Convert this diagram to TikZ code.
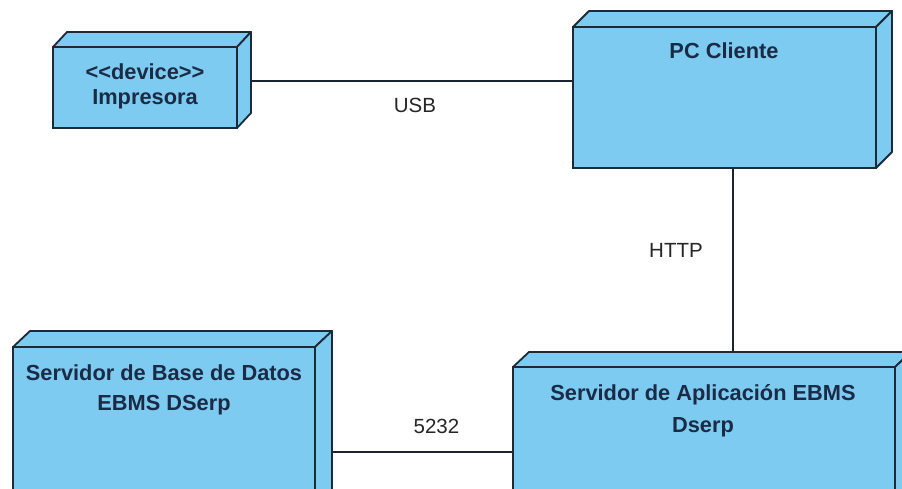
\documentclass[tikz,border=0pt]{standalone}
\usepackage{fontspec}
\setmainfont{Liberation Sans}[Ligatures=NoCommon]
\definecolor{nodefill}{HTML}{7DCBF1}
\definecolor{edge}{HTML}{1C2A38}
\definecolor{ink}{HTML}{1B2B45}
\pgfdeclarelayer{paper}
\pgfdeclarelayer{links}
\pgfsetlayers{paper,links,main}
\tikzset{
  front/.style={draw=edge, fill=nodefill, line width=1.8bp, inner sep=0pt, outer sep=0pt},
  face/.style={draw=edge, fill=nodefill, line width=1.8bp, line join=round},
  title/.style={text=ink, font=\bfseries, align=center, inner sep=0pt},
  link/.style={draw=edge!90!black, line width=1.5bp},
  linklabel/.style={text=black!85, inner sep=0pt}
}
% top and right faces of a 3D node box
\newcommand\udbox[3]{%
  \draw[face] (#1.north west) -- ++(#2,-#3) -- ([shift={(#2,-#3)}]#1.north east) -- (#1.north east) -- cycle;
  \draw[face] (#1.north east) -- ++(#2,-#3) -- ([shift={(#2,-#3)}]#1.south east) -- (#1.south east) -- cycle;}
\begin{document}
\begin{tikzpicture}[x=1bp, y=-1bp]
\useasboundingbox (0,0) rectangle (902,489);
\clip (0,0) rectangle (902,489);
\begin{pgfonlayer}{paper}
  \fill[white] (0,0) rectangle (902,489);
\end{pgfonlayer}

% node boxes
\node[front, minimum width=184bp, minimum height=81bp] (imp) at (145,87.5) {};
\udbox{imp}{14}{15}
\node[front, minimum width=303bp, minimum height=141bp] (pc) at (724.5,97.5) {};
\udbox{pc}{16}{16}
\node[front, minimum width=302bp, minimum height=160bp] (db) at (164,427) {};
\udbox{db}{17}{16}
\node[front, minimum width=382bp, minimum height=140bp] (app) at (704,437) {};
\udbox{app}{16}{15}

% connector end points on the side and top faces
\coordinate (usbA) at (250,81);
\coordinate (httpB) at (733,352);
\coordinate (dbA) at (332,452);

% connectors, kept under the boxes
\begin{pgfonlayer}{links}
  \draw[link] (usbA) -- (pc.west |- usbA);
  \draw[link] (pc.south -| httpB) -- (httpB);
  \draw[link] (dbA) -- (app.west |- dbA);
\end{pgfonlayer}

% box titles
\node[title, font=\bfseries\fontsize{21.8bp}{25bp}\selectfont] (impT) at (145,86) {{<}{<}device{>}{>}\\Impresora};
\node[title, font=\bfseries\fontsize{21.8bp}{25bp}\selectfont] (pcT) at (724,50.5) {PC Cliente};
\node[title, font=\bfseries\fontsize{21.8bp}{30bp}\selectfont] (dbT) at (164,389.5) {Servidor de Base de Datos\\EBMS DSerp};
\node[title, font=\bfseries\fontsize{21.8bp}{32bp}\selectfont] (appT) at (703,411) {Servidor de Aplicación EBMS\\Dserp};

% connector labels
\node[linklabel, font=\fontsize{20.5bp}{24bp}\selectfont] (usbL) at (415,105.5) {USB};
\node[linklabel, font=\fontsize{20.5bp}{24bp}\selectfont] (httpL) at (676,250.5) {HTTP};
\node[linklabel, font=\fontsize{20.5bp}{24bp}\selectfont] (portL) at (436.5,426.5) {5232};
\end{tikzpicture}
\end{document}
